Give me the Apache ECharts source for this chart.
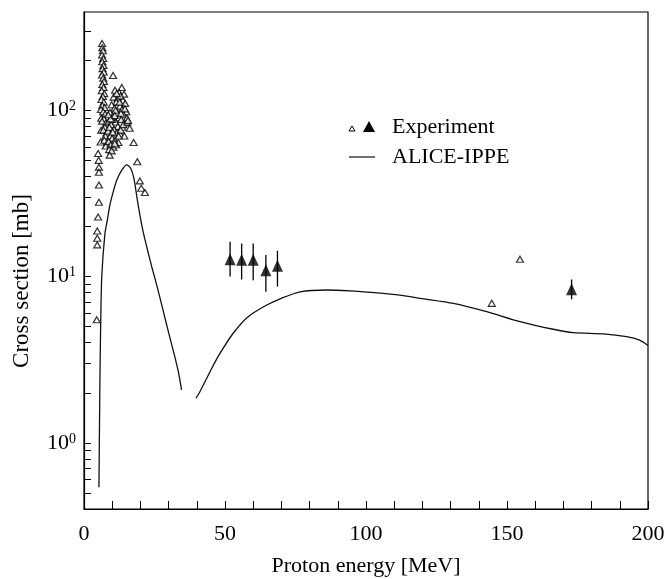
<!DOCTYPE html>
<html><head><meta charset="utf-8">
<script src="https://cdn.jsdelivr.net/npm/echarts@6/dist/echarts.min.js"></script>
<style>html,body{margin:0;padding:0;background:#fff}#c{width:664px;height:579px}</style>
</head><body><div id="c"></div>
<script>
// ---- data ----
const xTickLabels = [0, 50, 100, 150, 200];
const yTickLabels = [1, 10, 100];
const yTickValues = [0.4,0.5,0.6,0.7,0.8,0.9,1,2,3,4,5,6,7,8,9,10,20,30,40,50,60,70,80,90,100,200,300];
// ALICE-IPPE calculation, two segments
const theoryLow = [[5.3,0.54],[5.6,2],[5.9,5],[6.3,10],[7.4,18],[8.3,22],[9.2,27],[10.5,33],[11.6,38],[13.4,43.6],[15.1,47],[16.5,45],[17.7,39],[18.9,29],[19.9,23],[21,18.5],[22.5,14.5],[24,11.5],[26,8.6],[28,6.3],[30,4.6],[32,3.4],[33.5,2.65],[34.6,2.08]];
const theoryHigh = [[39.7,1.86],[41.1,2.03],[45,2.74],[48,3.4],[52.9,4.56],[58,5.7],[64.8,6.74],[70,7.4],[76.6,8.1],[86.1,8.3],[94.3,8.2],[103,8.0],[112,7.74],[119.1,7.4],[131,6.9],[142.8,6.15],[154.6,5.36],[166.4,4.82],[173.5,4.6],[184.2,4.52],[192.4,4.35],[197,4.15],[200,3.85]];
// Experiment, open triangles
const expOpen = [
 [6.4,252],[6.5,238],[6.7,228],[6.4,215],[6.8,205],[6.5,196],[6.9,186],[6.6,178],[7.0,170],[6.4,163],
 [6.8,156],[7.1,149],[6.5,143],[6.9,137],[6.3,131],[7.2,126],[6.7,121],[6.2,116],[7.0,112],[6.5,107],
 [7.3,104],[6.0,101],[6.8,98],[7.5,95],[6.1,89.5],[7.1,89],[6.4,86],[7.8,84],[6.1,75.8],[7.4,79],
 [6.9,76],[8.0,73],[5.9,64.5],[7.6,70],[7.2,66],[8.2,63],[7.7,61],
 [5.0,55],[5.2,50],[5.3,45.5],[5.3,42.4],[5.3,35.5],[5.3,28],[5.0,22.8],[4.7,18.8],[4.7,17],[4.7,15.5],[4.5,5.5],
 [10.3,162],
 [11.0,132],[13.4,137],[12.5,128],[14.2,125],[10.5,120],[12.0,118],[13.8,115],[11.5,112],[14.6,110],[9.8,108],
 [12.8,106],[10.8,103],[13.5,101],[15.0,98],[9.2,97],[11.8,96],[14.0,94],[10.2,92],[12.4,90],[13.2,88],
 [8.8,86],[11.2,85],[14.8,84],[9.6,82],[12.0,80],[13.6,79],[10.6,77],[8.5,75],[11.6,73],[12.8,72],
 [9.3,70],[14.3,70],[10.0,68],[11.0,66],[8.7,65],[12.2,64],[9.5,62],[10.4,60],[8.9,58],[9.8,57],
 [11.4,62],[13.0,76],[15.2,90],[14.5,102],[12.6,112],[11.2,100],[10.0,88],[9.0,79],[13.9,82],[15.4,85],
 [12.9,122],[11.6,126],[13.1,96],[10.9,93],[9.4,89],[8.6,94],[12.3,70],[10.2,74],[9.1,53.7],[10.9,63.4],
 [15.6,87],[16.2,78],[17.6,64],[18.9,49],[19.8,37.6],[20.3,34],[21.6,32],
 [144.6,6.9],[154.6,12.7]
];
// Experiment, filled triangles: [energy, value, low, high]
const expFilled = [[51.8,12.7,10.0,16.2],[55.9,12.6,9.6,15.8],[60.0,12.6,9.5,15.8],[64.5,10.9,8.1,13.5],[68.6,11.6,8.7,14.3],[172.9,8.4,7.3,9.6]];

const FONT = '"Liberation Serif", "DejaVu Serif", serif';
const chart = echarts.init(document.getElementById('c'));
chart.setOption({
  animation: false,
  backgroundColor: '#fff',
  grid: {left: 84, right: 16, top: 12, bottom: 70, show: true, borderColor: '#000', borderWidth: 1.2,
    containLabel: false, outerBoundsMode: 'none'},
  xAxis: {
    type: 'value', min: 0, max: 200, interval: 10,
    name: 'Proton energy [MeV]', nameLocation: 'middle', nameGap: 46,
    nameTextStyle: {fontFamily: FONT, fontSize: 22, color: '#000'},
    axisLine: {lineStyle: {color: '#000', width: 1.2}},
    axisTick: {inside: true, length: 8, lineStyle: {color: '#000'}},
    axisLabel: {fontFamily: FONT, fontSize: 22, color: '#000', margin: 14,
      formatter: v => xTickLabels.indexOf(v) >= 0 ? String(v) : ''},
    splitLine: {show: false}
  },
  yAxis: {
    type: 'log', logBase: 10, min: 0.4, max: 390,
    axisLine: {lineStyle: {color: '#000', width: 1.2}},
    axisTick: {inside: true, length: 7, customValues: yTickValues, lineStyle: {color: '#000'}},
    axisLabel: {customValues: yTickLabels, margin: 8,
      formatter: v => '{b|10}{s|' + Math.round(Math.log10(v)) + '}',
      rich: {b: {fontFamily: FONT, fontSize: 22, color: '#000'},
             s: {fontFamily: FONT, fontSize: 14, color: '#000', padding: [0,0,8,0]}}},
    splitLine: {show: false}, minorTick: {show: false}
  },
  series: [
    {type: 'line', data: theoryLow, showSymbol: false, smooth: 0.25, lineStyle: {color: '#111', width: 1.3}},
    {type: 'line', data: theoryHigh, showSymbol: false, smooth: 0.25, lineStyle: {color: '#111', width: 1.3}},
    {type: 'scatter', data: expOpen, symbol: 'triangle', symbolSize: [7, 6],
      itemStyle: {color: '#fff', borderColor: '#000', borderWidth: 1.2}},
    {type: 'custom', data: expFilled.map(d => [d[0], d[2], d[3]]),
      renderItem: (params, api) => {
        const a = api.coord([api.value(0), api.value(1)]);
        const b = api.coord([api.value(0), api.value(2)]);
        return {type: 'line', shape: {x1: a[0], y1: a[1], x2: b[0], y2: b[1]}, style: {stroke: '#000', lineWidth: 1.3}};
      }, z: 3},
    {type: 'scatter', data: expFilled.map(d => [d[0], d[1]]), symbol: 'triangle', symbolSize: [11, 12],
      itemStyle: {color: '#000'}, z: 4}
  ],
  graphic: [
    {type: 'text', x: 22, y: 281, rotation: Math.PI / 2,
      style: {text: 'Cross section [mb]', font: '23px ' + FONT, fill: '#000', align: 'center', verticalAlign: 'middle'}},
    {type: 'polygon', shape: {points: [[352,126],[355,131],[349,131]]}, style: {fill: '#fff', stroke: '#000', lineWidth: 1}},
    {type: 'polygon', shape: {points: [[369,121],[375,132],[363,132]]}, style: {fill: '#000'}},
    {type: 'text', x: 392, y: 127, style: {text: 'Experiment', font: '22px ' + FONT, fill: '#000', verticalAlign: 'middle'}},
    {type: 'line', shape: {x1: 349, y1: 157, x2: 375, y2: 157}, style: {stroke: '#111', lineWidth: 1.2}},
    {type: 'text', x: 392, y: 157, style: {text: 'ALICE-IPPE', font: '22px ' + FONT, fill: '#000', verticalAlign: 'middle'}}
  ]
});
</script></body></html>
